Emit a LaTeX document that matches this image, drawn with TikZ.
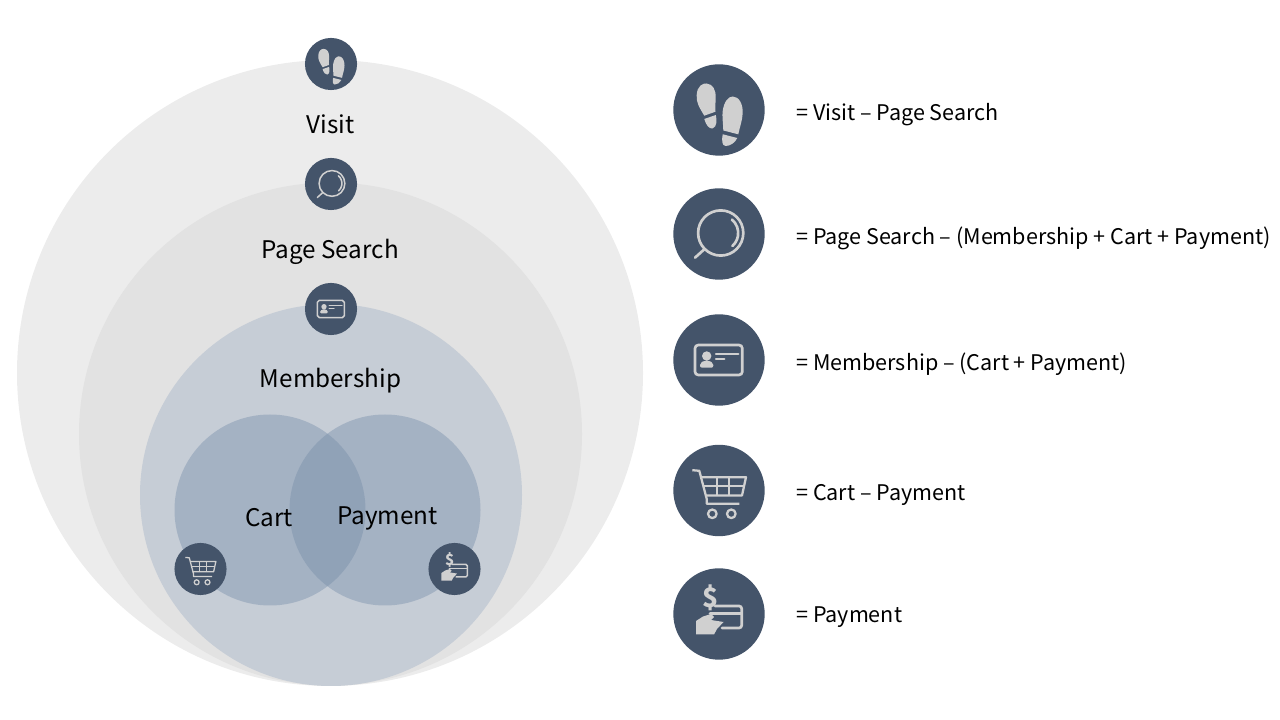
\documentclass[tikz,border=0pt]{standalone}
\usepackage{fontspec}
\setmainfont{Noto Sans CJK KR}
\definecolor{badgeblue}{HTML}{44546A}
\definecolor{iconline}{HTML}{D0D0D0}
\definecolor{ringone}{HTML}{ECECEC}
\definecolor{ringtwo}{HTML}{E2E2E2}
\definecolor{ringthree}{HTML}{C6CDD6}
\definecolor{vennblue}{HTML}{728AA7}
\tikzset{
	bigtext/.style={font=\fontsize{18.2pt}{22pt}\selectfont,inner sep=0pt,text=black},
	listtext/.style={font=\fontsize{16.15pt}{20pt}\selectfont,inner sep=0pt,anchor=base west,text=black},
	badge/.style={fill=badgeblue},
	venn/.style={fill=vennblue,fill opacity=0.4},
}
\tikzset{
	pics/steps/.style args={#1}{code={
	\fill[badge] (0,0) circle ({45.7*#1});
	\begin{scope}[scale=#1,fill=iconline]
	\fill (-14.7,-5.7) .. controls (-20,3) and (-23,8) .. (-22.3,15) .. controls (-22,24) and (-16,27) .. (-12.5,26.5) .. controls (-6,26) and (-3,20) .. (-3.3,12) .. controls (-3.5,6) and (-4,2) .. (-3.5,-1.7) -- cycle;
	\fill (-14.7,-9) -- (-3.2,-5) .. controls (-2,-10) and (-2,-17) .. (-6.5,-18.5) .. controls (-10,-19) and (-13,-15) .. cycle;
	\fill (4.3,-20.5) .. controls (4,-12) and (3,-6) .. (3.7,-1) .. controls (5,8) and (9,13.5) .. (13.7,13.5) .. controls (20,13.5) and (24,6) .. (23.7,-3) .. controls (23.5,-10) and (20.5,-18) .. (19.3,-24.3) -- cycle;
	\fill (3.7,-24.3) -- (18.3,-28) .. controls (16,-33) and (11,-36) .. (6.5,-36) .. controls (3,-36) and (2.5,-30) .. cycle;
	\end{scope}
	},
	}
}
\tikzset{
	pics/lens/.style args={#1}{code={
	\fill[badge] (0,0) circle ({45.7*#1});
	\begin{scope}[scale=#1,draw=iconline,line cap=round]
	\draw[line width={2pt*#1}] (1.7,1) circle (22.6);
	\draw[line width={2pt*#1}] (-14.7,-15.3) -- (-24,-23.7);
	\draw[line width={2pt*#1}] (1.7,1) ++(50:17.5) arc (50:-48:17.5);
	\end{scope}
	},
	}
}
\tikzset{
	pics/card/.style args={#1}{code={
	\fill[badge] (0,0) circle ({45.7*#1});
	\begin{scope}[scale=#1,draw=iconline,fill=iconline,line cap=round]
	\draw[line width={2pt*#1},rounded corners={2.5*#1}] (-24,-15) rectangle (23.3,15);
	\fill (-12.3,4) circle (4.7);
	\fill[rounded corners={1.5*#1}] (-19,-7.7) -- (-19,-3) -- (-14,-0.5) -- (-10.5,-0.5) -- (-5.7,-3) -- (-5.7,-7.7) -- cycle;
	\draw[line width={1.8pt*#1}] (-3,5.7) -- (19.3,5.7);
	\draw[line width={1.8pt*#1}] (-3,0.7) -- (5.3,0.7);
	\end{scope}
	},
	}
}
\tikzset{
	pics/cart/.style args={#1}{code={
	\fill[badge] (0,0) circle ({45.7*#1});
	\begin{scope}[scale=#1,draw=iconline,line join=round]
	\draw[line width={1.7pt*#1}] (-26.7,20.3) -- (-19.7,19.7) -- (-12.3,-8.3) -- (-12.3,-13.3) -- (20.3,-13.3);
	\draw[line width={1.7pt*#1}] (-18.3,13.3) -- (27,13.3) -- (23,-5) -- (-14,-5);
	\draw[line width={1.7pt*#1}] (-1.7,13.3) -- (-1.7,-5);
	\draw[line width={1.7pt*#1}] (10,13.3) -- (10,-5);
	\draw[line width={1.7pt*#1}] (-16,4.3) -- (25,4.3);
	\draw[line width={1.7pt*#1}] (-6.7,-23.3) circle (4.3);
	\draw[line width={1.7pt*#1}] (12.3,-23.3) circle (4.3);
	\end{scope}
	},
	}
}
\tikzset{
	pics/pay/.style args={#1}{code={
	\fill[badge] (0,0) circle ({45.7*#1});
	\begin{scope}[scale=#1,draw=iconline,fill=iconline,line cap=round]
	\node[transform shape,text=iconline,inner sep=0pt,font=\fontsize{20pt}{20pt}\selectfont\bfseries] (dollar#1) at (-8.3,16) {\$};
	\draw[line width={2pt*#1},rounded corners={2*#1}] (-4,8) -- (22.7,8) -- (22.7,-14) -- (3,-14);
	\draw[line width={2pt*#1}] (-9,0.5) -- (22,0.5);
	\fill (-23,-20.5) -- (-23,-7) -- (-16,-2.5) -- (-8,0) -- (-5,-3) -- (-8,-6) -- (4.5,-8) -- (-2,-15) -- (-5,-20.5) -- cycle;
	\end{scope}
	},
	}
}
\begin{document}
\begin{tikzpicture}[x=0.75pt,y=0.75pt]
	\useasboundingbox (0,0) rectangle (1280,720);
	%RINGS
	\fill[ringone] (330,347) circle (313);
	\fill[ringtwo] (330.5,286) circle (251.5);
	\fill[ringthree] (331,225) circle (191);
	\fill[venn] (270,210) circle (95.5);
	\fill[venn] (385,210) circle (95.5);

	%LABELS
	\node[bigtext] (visitlabel) at (330.5,595.5) {Visit};
	\node[bigtext] (searchlabel) at (330,468) {Page Search};
	\node[bigtext] (memberlabel) at (330.5,339.5) {Membership};
	\node[bigtext] (cartlabel) at (269,202) {Cart};
	\node[bigtext] (paylabel) at (387.5,202) {Payment};

	%SMALL ICONS
	\draw (331,656) pic {steps={0.57}};
	\draw (331,536) pic {lens={0.57}};
	\draw (331,411) pic {card={0.57}};
	\draw (200.5,151) pic {cart={0.57}};
	\draw (454.5,151) pic {pay={0.57}};

	%BIG ICONS
	\draw (719,610) pic {steps={1}};
	\draw (719,486) pic {lens={1}};
	\draw (719,360) pic {card={1}};
	\draw (719,229.5) pic {cart={1}};
	\draw (719,106) pic {pay={1}};

	%FORMULAS
	\node[listtext] (visitrow) at (796,599) {= Visit – Page Search};
	\node[listtext] (searchrow) at (796,475) {= Page Search – (Membership + Cart + Payment)};
	\node[listtext] (memberrow) at (796,349) {= Membership – (Cart + Payment)};
	\node[listtext] (cartrow) at (796,219) {= Cart – Payment};
	\node[listtext] (payrow) at (796,97) {= Payment};
\end{tikzpicture}
\end{document}
